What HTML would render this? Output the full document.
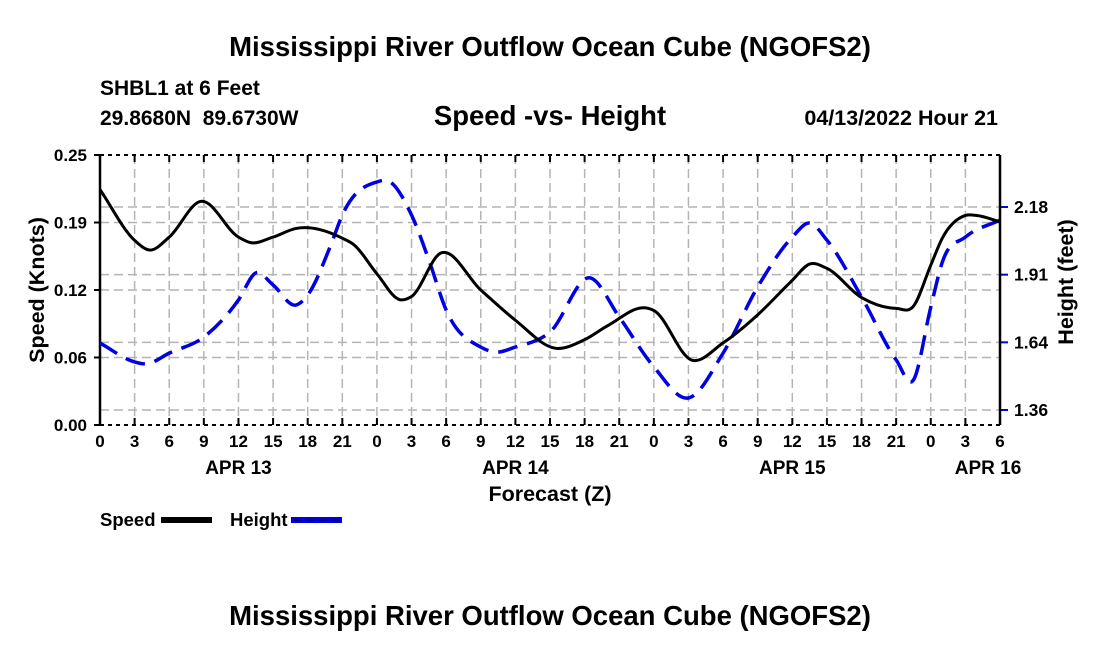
<!DOCTYPE html>
<html><head><meta charset="utf-8"><style>
body{margin:0;background:#fff;}
svg{display:block;font-family:"Liberation Sans",Arial,sans-serif;font-weight:bold;}
</style></head><body>
<svg id="chart" width="1100" height="650" viewBox="0 0 1100 650">
<text x="550" y="56" font-size="27.5" text-anchor="middle">Mississippi River Outflow Ocean Cube (NGOFS2)</text>
<text x="100" y="95" font-size="21">SHBL1 at 6 Feet</text>
<text x="100" y="125" font-size="21" xml:space="preserve">29.8680N  89.6730W</text>
<text x="550" y="125" font-size="27.5" text-anchor="middle">Speed -vs- Height</text>
<text x="998" y="125" font-size="21.5" text-anchor="end">04/13/2022 Hour 21</text>
<g id="grid"></g>
<g id="axes"></g>
<g id="series"></g>
<text x="550" y="501" font-size="21.5" text-anchor="middle">Forecast (Z)</text>
<text transform="translate(44,290) rotate(-90)" font-size="21.5" text-anchor="middle">Speed (Knots)</text>
<text transform="translate(1073,282) rotate(-90)" font-size="21.5" text-anchor="middle">Height (feet)</text>
<g>
<text x="100" y="526" font-size="18.5">Speed</text>
<rect x="161" y="517" width="51" height="6" fill="#000"/>
<text x="230" y="526" font-size="18.5">Height</text>
<rect x="291" y="517" width="51" height="6" fill="#0000e0"/>
<line x1="293" y1="520" x2="340" y2="520" stroke="#000060" stroke-width="1.5" stroke-dasharray="8,5"/>
</g>
<text x="550" y="625" font-size="27.5" text-anchor="middle">Mississippi River Outflow Ocean Cube (NGOFS2)</text>
</svg>
<script>
const speedHours=[0,3,4.3,6,8.7,12,13,15,17,21,22,24,26,27,29.5,33,36,39.5,42,44,47.5,48,51.3,54,57,60,61.5,63,66,69,70.5,72,73,75,76,78];
const speedValues=[0.218,0.171,0.162,0.174,0.207,0.174,0.169,0.174,0.182,0.173,0.167,0.140,0.116,0.119,0.159,0.125,0.097,0.071,0.079,0.092,0.108,0.106,0.060,0.076,0.102,0.134,0.149,0.145,0.118,0.108,0.110,0.148,0.173,0.194,0.194,0.188];
const heightHours=[0,3,4,6,9,12,13.5,15,17,18,20,21,24,25,27,28.5,30,33,34.2,36,39,42.5,45,48,51,54,57,60,61.5,63,66,69,70.5,72,73,75,78];
const heightValues=[1.627,1.552,1.544,1.587,1.651,1.799,1.907,1.859,1.779,1.819,2.018,2.138,2.270,2.274,2.138,1.959,1.759,1.611,1.591,1.611,1.671,1.887,1.731,1.532,1.408,1.587,1.851,2.050,2.106,2.038,1.811,1.560,1.480,1.770,1.950,2.050,2.118];
const xTickLabels=["0","3","6","9","12","15","18","21","0","3","6","9","12","15","18","21","0","3","6","9","12","15","18","21","0","3","6"];
const dayLabels=["APR 13","APR 14","APR 15","APR 16"];
const dayHours=[12,36,60,78];
const speedTicks=[0,0.0625,0.125,0.1875,0.25];
const speedTickLabels=["0.00","0.06","0.12","0.19","0.25"];
const heightTicks=[1.36,1.63,1.90,2.17];
const heightTickLabels=["1.36","1.64","1.91","2.18"];

const L=100,R=1000,T=155,B=425,HMAX=78;
const NS="http://www.w3.org/2000/svg";
const xS=t=>L+t/HMAX*(R-L);
const yS=v=>B-v/0.25*(B-T);
const yH=h=>410-(h-1.36)*250.6;
function mk(tag,attrs,parent){const e=document.createElementNS(NS,tag);for(const k in attrs)e.setAttribute(k,attrs[k]);parent.appendChild(e);return e;}
const grid=document.getElementById('grid'),axes=document.getElementById('axes'),series=document.getElementById('series');
const gs={stroke:"#b4b4b4","stroke-width":1.5,"stroke-dasharray":"9,5"};
xTickLabels.forEach((lab,i)=>{
  const x=xS(i*3);
  if(i>0&&i<xTickLabels.length-1){const g=mk('line',Object.assign({x1:x,x2:x,y1:T,y2:B},gs),grid);
  
  }
  const tk=mk('line',{x1:x,x2:x,y1:B,y2:B-7,stroke:"#000","stroke-width":2},axes);
  
  
  const tk2=mk('line',{x1:x,x2:x,y1:T,y2:T+7,stroke:"#000","stroke-width":2},axes);
  
  
  const t=mk('text',{x:x,y:B+22,"font-size":17,"text-anchor":"middle"},axes);t.textContent=lab;
  
  
});
dayLabels.forEach((d,i)=>{const t=mk('text',{x:xS(dayHours[i])-(i==3?12:0),y:B+49,"font-size":19,"text-anchor":"middle"},axes);t.textContent=d;
  
  });
speedTicks.forEach((v,i)=>{
  const y=yS(v);
  if(i>0&&i<speedTicks.length-1){const g=mk('line',Object.assign({x1:L,x2:R,y1:y,y2:y},gs),grid);
  
  }
  const tk=mk('line',{x1:L-6,x2:L,y1:y,y2:y,stroke:"#000","stroke-width":2},axes);
  
  
  const t=mk('text',{x:L-13,y:y+6,"font-size":17,"text-anchor":"end"},axes);t.textContent=speedTickLabels[i];
  
  
});
heightTicks.forEach((h,i)=>{
  const y=yH(h);
  const g=mk('line',Object.assign({x1:L,x2:R,y1:y,y2:y},gs),grid);
  
  
  const tk=mk('line',{x1:R,x2:R+8,y1:y,y2:y,stroke:"#0000e0","stroke-width":2},axes);
  
  
  const t=mk('text',{x:R+14,y:y+6,"font-size":17.5},axes);t.textContent=heightTickLabels[i];
  
  
});
const b1=mk('line',{x1:L,x2:L,y1:T,y2:B,stroke:"#000","stroke-width":2.5},axes);


const b2=mk('line',{x1:R,x2:R,y1:T,y2:B,stroke:"#000","stroke-width":2.5},axes);


const b3=mk('line',{x1:L,x2:R,y1:T,y2:T,stroke:"#000","stroke-width":2,"stroke-dasharray":"4,4"},axes);


const b4=mk('line',{x1:L,x2:R,y1:B,y2:B,stroke:"#000","stroke-width":2,"stroke-dasharray":"4,4"},axes);


function smooth(pts){
  const n=pts.length,m=[];
  for(let i=0;i<n;i++){
    if(i==0)m.push((pts[1][1]-pts[0][1])/(pts[1][0]-pts[0][0]));
    else if(i==n-1)m.push((pts[n-1][1]-pts[n-2][1])/(pts[n-1][0]-pts[n-2][0]));
    else{const a=pts[i][0]-pts[i-1][0],b=pts[i+1][0]-pts[i][0];
      const s1=(pts[i][1]-pts[i-1][1])/a,s2=(pts[i+1][1]-pts[i][1])/b;
      m.push((s1*b+s2*a)/(a+b));}
  }
  let d=`M${pts[0][0]},${pts[0][1]}`;
  for(let i=0;i<n-1;i++){const h=(pts[i+1][0]-pts[i][0])/3;
    d+=` C${pts[i][0]+h},${pts[i][1]+m[i]*h} ${pts[i+1][0]-h},${pts[i+1][1]-m[i+1]*h} ${pts[i+1][0]},${pts[i+1][1]}`;}
  return d;}
const hp=mk('path',{d:smooth(heightHours.map((t,i)=>[xS(t),yH(heightValues[i])])),fill:"none",stroke:"#0000e0","stroke-width":3.5,"stroke-dasharray":"20,10"},series);


const sp=mk('path',{d:smooth(speedHours.map((t,i)=>[xS(t),yS(speedValues[i])])),fill:"none",stroke:"#000","stroke-width":3},series);


</script>
</body></html>
